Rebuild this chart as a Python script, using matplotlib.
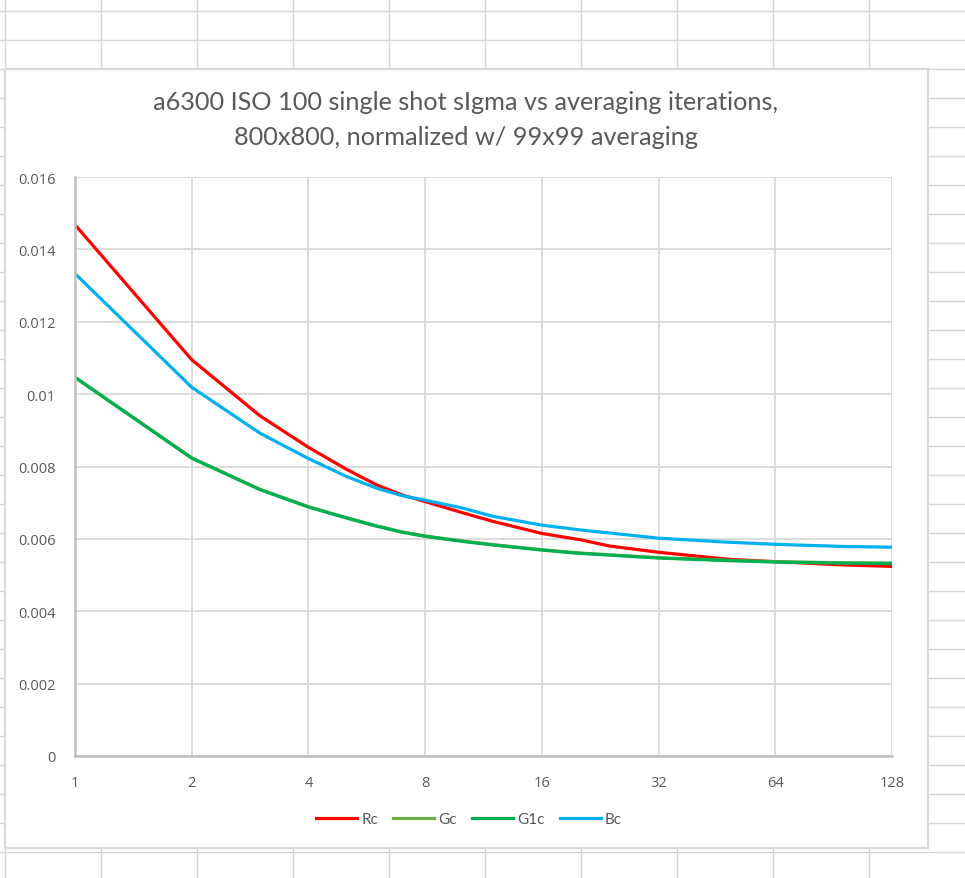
import matplotlib
matplotlib.use("Agg")
import matplotlib.pyplot as plt
from matplotlib.lines import Line2D
from matplotlib.patches import Rectangle

# ---- data ----
iterations = [1, 2, 3, 4, 5, 6, 7, 8, 10, 12, 16, 20, 24, 32, 48, 64, 96, 128]
Rc = [0.01468, 0.01095, 0.00940, 0.00853, 0.00793, 0.00749, 0.00721, 0.00703, 0.00672,
      0.00648, 0.00615, 0.00598, 0.00580, 0.00563, 0.00544, 0.00537, 0.00528, 0.00524]
Gc = [0.01047, 0.00824, 0.00737, 0.00689, 0.00659, 0.00636, 0.00619, 0.00608, 0.00594,
      0.00584, 0.00570, 0.00561, 0.00556, 0.00548, 0.00541, 0.00537, 0.00534, 0.00533]
G1c = [0.01046, 0.00823, 0.00736, 0.00688, 0.00658, 0.00635, 0.00618, 0.00607, 0.00593,
       0.00583, 0.00569, 0.00560, 0.00555, 0.00547, 0.00540, 0.00536, 0.00533, 0.00532]
Bc = [0.01333, 0.01019, 0.00892, 0.00822, 0.00773, 0.00740, 0.00719, 0.00707, 0.00685,
      0.00662, 0.00638, 0.00625, 0.00616, 0.00602, 0.00591, 0.00585, 0.00579, 0.00577]

x_ticks = [1, 2, 4, 8, 16, 32, 64, 128]
x_tick_labels = ["1", "2", "4", "8", "16", "32", "64", "128"]
y_ticks = [0, 0.002, 0.004, 0.006, 0.008, 0.010, 0.012, 0.014, 0.016]
y_tick_labels = ["0", "0.002", "0.004", "0.006", "0.008", "0.01", "0.012", "0.014", "0.016"]

title = "a6300 ISO 100 single shot sIgma vs averaging iterations,\n800x800, normalized w/ 99x99 averaging"

W, H = 965, 879
fig = plt.figure(figsize=(W / 100, H / 100), dpi=100)
fig.patch.set_facecolor("white")

def fx(px):
    return px / W

def fy(py):
    return 1 - py / H

# spreadsheet background grid
sheet_color = "#D4D4D4"
for px in [5, 101, 197, 293, 389, 485, 581, 677, 773, 869]:
    fig.add_artist(Line2D([fx(px), fx(px)], [0, 1], color=sheet_color, lw=1, zorder=0))
py = 12.3
while py < H:
    fig.add_artist(Line2D([0, 1], [fy(py), fy(py)], color=sheet_color, lw=1, zorder=0))
    py += 29.0

# chart area
fig.add_artist(Rectangle((fx(5), fy(849)), fx(928) - fx(5), fy(70) - fy(849),
                         facecolor="white", edgecolor="#D9D9D9", lw=1.5, zorder=1))

ax = fig.add_axes([fx(75), fy(757), fx(892) - fx(75), fy(178) - fy(757)])
ax.set_zorder(2)
ax.set_facecolor("none")

colors = {"Rc": "#FF0000", "Gc": "#70AD47", "G1c": "#00B050", "Bc": "#00B0F0"}
ax.plot(iterations, Rc, color=colors["Rc"], lw=2.3, label="Rc")
ax.plot(iterations, Gc, color=colors["Gc"], lw=2.3, label="Gc")
ax.plot(iterations, G1c, color=colors["G1c"], lw=2.3, label="G1c")
ax.plot(iterations, Bc, color=colors["Bc"], lw=2.3, label="Bc")

ax.set_xscale("log", base=2)
ax.set_xlim(1, 128)
ax.set_ylim(0, 0.016)
ax.set_xticks(x_ticks)
ax.set_xticklabels(x_tick_labels)
ax.minorticks_off()
ax.set_yticks(y_ticks)
ax.set_yticklabels(y_tick_labels)

ax.grid(True, color="#D9D9D9", lw=1.3)
ax.set_axisbelow(True)
for s in ["top", "right"]:
    ax.spines[s].set_visible(False)
for s in ["left", "bottom"]:
    ax.spines[s].set_color("#BFBFBF")
    ax.spines[s].set_linewidth(1.8)

ax.tick_params(axis="both", length=0, colors="#595959", labelsize=10.5)
ax.tick_params(axis="x", pad=14)
ax.tick_params(axis="y", pad=14)
for lab in ax.get_xticklabels() + ax.get_yticklabels():
    lab.set_family("Open Sans")

fig.text(fx(466), fy(120), title, ha="center", va="center", fontsize=18.2,
         color="#595959", family="Lato", linespacing=1.65)

handles, labels = ax.get_legend_handles_labels()
leg = fig.legend(handles, labels, loc="center", bbox_to_anchor=(fx(469), fy(820)), ncol=4,
                 frameon=False, handlelength=2.7, handletextpad=0.25,
                 columnspacing=1.0, prop={"family": "Lato", "size": 11})
for t in leg.get_texts():
    t.set_color("#595959")

fig.savefig("out.png", dpi=100)
